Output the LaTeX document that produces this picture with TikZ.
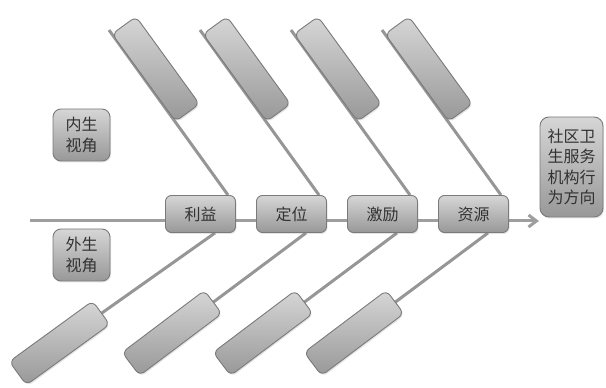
\documentclass[tikz,border=0pt]{standalone}
\usepackage{fontspec}
\newfontfamily\cjk{Noto Sans CJK SC}
\usetikzlibrary{arrows.meta,shadows}
\definecolor{boxtop}{RGB}{214,214,214}
\definecolor{boxbot}{RGB}{152,152,152}
\definecolor{boxline}{RGB}{122,122,122}
\definecolor{boneline}{RGB}{150,150,150}
\definecolor{spineline}{RGB}{158,158,158}
\definecolor{txt}{RGB}{50,50,50}
\pgfdeclarelayer{bg}
\pgfsetlayers{bg,main}
\begin{document}
\begin{tikzpicture}[x=1pt,y=1pt,
  gbox/.style={draw=boxline, line width=0.9pt, rounded corners=6pt,
    top color=boxtop, bottom color=boxbot,
    drop shadow={opacity=0.22, shadow xshift=1pt, shadow yshift=-1.5pt},
    inner sep=0pt, font=\cjk\fontsize{16}{20.5}\selectfont, text=txt, align=center},
  spinebox/.style={gbox, minimum width=70pt, minimum height=37pt},
  sidebox/.style={gbox, minimum width=57pt, minimum height=52pt, rounded corners=8pt},
  upbox/.style={gbox, minimum width=108pt, minimum height=29.5pt, rotate=-54},
  lowbox/.style={gbox, minimum width=103pt, minimum height=29pt, rotate=37},
  bone/.style={draw=boneline, line width=3pt},
  spine/.style={draw=spineline, line width=3pt}
]
\useasboundingbox (0,0) rectangle (606,388);

% spine boxes
\node[spinebox] (b1) at (200.5,174) {利益};
\node[spinebox] (b2) at (291.5,174) {定位};
\node[spinebox] (b3) at (382.5,174) {激励};
\node[spinebox] (b4) at (473.5,174) {资源};

% side labels
\node[sidebox] (inner) at (81.5,253) {内生\\视角};
\node[sidebox] (outer) at (81.5,133) {外生\\视角};
\node[gbox, minimum width=63pt, minimum height=100pt, rounded corners=9pt] (goal) at (571.5,221) {社区卫\\生服务\\机构行\\为方向};

% upper boxes
\node[upbox] (u1) at (155.8,319) {};
\node[upbox] (u2) at (246.8,319) {};
\node[upbox] (u3) at (337.8,319) {};
\node[upbox] (u4) at (428.8,319) {};

% lower boxes
\node[lowbox, rotate=-1] (l1) at (59.5,45) {};
\node[lowbox] (l2) at (172,55) {};
\node[lowbox] (l3) at (263,55) {};
\node[lowbox] (l4) at (354,55) {};

% bone start points
\coordinate (s1) at (109,358);
\coordinate (s2) at (200,358);
\coordinate (s3) at (291,358);
\coordinate (s4) at (382,358);
\coordinate (spL) at (30,167);
\coordinate (spR) at (539,167);

\begin{pgfonlayer}{bg}
  \draw[spine, -{Straight Barb[length=8pt,width=12pt]}] (spL) -- (spR);
  \draw[bone] (s1) -- ([xshift=27.5pt]b1.north);
  \draw[bone] (s2) -- ([xshift=27.5pt]b2.north);
  \draw[bone] (s3) -- ([xshift=27.5pt]b3.north);
  \draw[bone] (s4) -- ([xshift=27.5pt]b4.north);
  \draw[bone] ([xshift=14.5pt]b1.south) -- (l1.center);
  \draw[bone] ([xshift=14.5pt]b2.south) -- (l2.center);
  \draw[bone] ([xshift=14.5pt]b3.south) -- (l3.center);
  \draw[bone] ([xshift=14.5pt]b4.south) -- (l4.center);
\end{pgfonlayer}
\end{tikzpicture}
\end{document}
